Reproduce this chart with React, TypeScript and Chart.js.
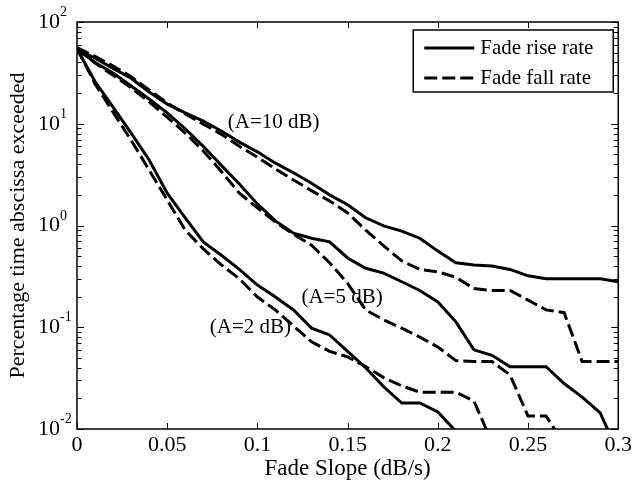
import React, { useEffect, useRef } from "react";
import { Chart, registerables } from "chart.js";

Chart.register(...registerables);

const FONT = "Liberation Serif";

// Fade slope (dB/s) sampling
const slopes = [
  0, 0.01, 0.02, 0.03, 0.04, 0.05, 0.06, 0.07, 0.08, 0.09, 0.1, 0.11, 0.12, 0.13, 0.14, 0.15,
  0.16, 0.17, 0.18, 0.19, 0.2, 0.21, 0.22, 0.23, 0.24, 0.25, 0.26, 0.27, 0.28, 0.29, 0.3,
];

// Percentage of time abscissa exceeded
const riseA10 = [54, 44, 35, 28, 20.5, 15.6, 12.8, 10.6, 8.5, 6.6, 5.3, 4.1, 3.3, 2.6, 2.0, 1.6, 1.19, 0.99, 0.88, 0.75, 0.56, 0.43, 0.41, 0.4, 0.37, 0.32, 0.3, 0.3, 0.3, 0.3, 0.28];
const fallA10 = [56, 46, 37, 29, 21.5, 16, 12.5, 9.9, 7.9, 6.0, 4.7, 3.6, 2.8, 2.2, 1.74, 1.33, 0.9, 0.63, 0.45, 0.37, 0.35, 0.31, 0.24, 0.23, 0.23, 0.185, 0.148, 0.139, 0.046, 0.046, 0.046];
const riseA5 = [54, 40, 31.5, 23.5, 17.5, 12.8, 8.9, 6.0, 3.9, 2.56, 1.63, 1.11, 0.84, 0.75, 0.69, 0.48, 0.38, 0.34, 0.28, 0.23, 0.177, 0.113, 0.06, 0.053, 0.041, 0.041, 0.041, 0.028, 0.0206, 0.0144, 0.0058];
const fallA5 = [56, 39.5, 30, 22.5, 16.4, 11.6, 8.1, 5.4, 3.4, 2.08, 1.49, 1.08, 0.82, 0.64, 0.43, 0.27, 0.148, 0.118, 0.098, 0.08, 0.064, 0.047, 0.046, 0.046, 0.034, 0.0134, 0.0134, 0.0071];
const riseA2 = [54, 26, 14.6, 8.1, 4.4, 2.08, 1.19, 0.69, 0.51, 0.37, 0.26, 0.198, 0.148, 0.098, 0.084, 0.058, 0.04, 0.026, 0.018, 0.018, 0.0147, 0.0095];
const fallA2 = [56, 24.6, 13, 6.9, 3.5, 1.78, 0.9, 0.59, 0.41, 0.3, 0.198, 0.148, 0.103, 0.072, 0.058, 0.051, 0.041, 0.032, 0.0265, 0.023, 0.023, 0.023, 0.0188, 0.0074];

const legendLabels = ["Fade rise rate", "Fade fall rate"];
const curveLabels = ["(A=10 dB)", "(A=5 dB)", "(A=2 dB)"];
const curveLabelX = [0.0836, 0.1244, 0.0736];
const curveLabelY = [10.4, 0.194, 0.0984];

const xTicks = [0, 0.05, 0.1, 0.15, 0.2, 0.25, 0.3];
const yExponents = [-2, -1, 0, 1, 2];

const DASH = [13, 5];

function series(values: number[]) {
  return values.map((v, i) => ({ x: slopes[i], y: v }));
}

const overlay = {
  id: "overlay",
  beforeDatasetsDraw(chart: any) {
    const { ctx, scales } = chart;
    ctx.save();
    ctx.fillStyle = "#000";
    ctx.font = `21px "${FONT}"`;
    ctx.textAlign = "left";
    ctx.textBaseline = "middle";
    curveLabels.forEach((t, i) => {
      ctx.fillText(t, scales.x.getPixelForValue(curveLabelX[i]), scales.y.getPixelForValue(curveLabelY[i]));
    });
    ctx.restore();
  },
  afterDatasetsDraw(chart: any) {
    const { ctx, chartArea, scales } = chart;
    const { left, right, top, bottom } = chartArea;
    ctx.save();
    ctx.strokeStyle = "#000";
    ctx.lineWidth = 1.5;
    ctx.setLineDash([]);
    // frame
    ctx.strokeRect(left, top, right - left, bottom - top);
    // x ticks (inside, mirrored)
    ctx.lineWidth = 1;
    ctx.beginPath();
    xTicks.forEach((v) => {
      const px = Math.round(scales.x.getPixelForValue(v)) + 0.5;
      ctx.moveTo(px, bottom);
      ctx.lineTo(px, bottom - 6);
      ctx.moveTo(px, top);
      ctx.lineTo(px, top + 6);
    });
    // y ticks (log, inside, mirrored)
    for (let d = -2; d <= 2; d++) {
      for (let m = 1; m <= 9; m++) {
        if (d === 2 && m > 1) break;
        const v = m * Math.pow(10, d);
        const py = Math.round(scales.y.getPixelForValue(v)) + 0.5;
        const len = m === 1 ? 7 : 4.5;
        ctx.moveTo(left, py);
        ctx.lineTo(left + len, py);
        ctx.moveTo(right, py);
        ctx.lineTo(right - len, py);
      }
    }
    ctx.stroke();

    // y tick labels 10^n
    ctx.fillStyle = "#000";
    yExponents.forEach((e) => {
      const py = scales.y.getPixelForValue(Math.pow(10, e));
      ctx.font = `22px "${FONT}"`;
      ctx.textAlign = "right";
      ctx.textBaseline = "middle";
      ctx.fillText("10", left - 17, py);
      ctx.font = `14px "${FONT}"`;
      ctx.textAlign = "left";
      ctx.textBaseline = "alphabetic";
      ctx.fillText(String(e).replace("-", "-"), left - 17, py - 6);
    });

    // legend
    const bx = right - 205;
    const by = top + 8;
    const bw = 200;
    const bh = 62;
    ctx.fillStyle = "#fff";
    ctx.fillRect(bx, by, bw, bh);
    ctx.lineWidth = 1.5;
    ctx.strokeStyle = "#000";
    ctx.strokeRect(bx, by, bw, bh);
    const rows = [by + 18, by + 48];
    ctx.lineWidth = 3;
    rows.forEach((ry, i) => {
      ctx.setLineDash(i === 0 ? [] : DASH);
      ctx.beginPath();
      ctx.moveTo(bx + 11, ry);
      ctx.lineTo(bx + 61, ry);
      ctx.stroke();
    });
    ctx.setLineDash([]);
    ctx.fillStyle = "#000";
    ctx.font = `21px "${FONT}"`;
    ctx.textAlign = "left";
    ctx.textBaseline = "middle";
    rows.forEach((ry, i) => ctx.fillText(legendLabels[i], bx + 67, ry));
    ctx.restore();
  },
};

export default function App() {
  const ref = useRef<HTMLCanvasElement | null>(null);

  useEffect(() => {
    if (!ref.current) return;
    Chart.defaults.font.family = FONT;
    const mk = (label: string, values: number[], dashed: boolean) => ({
      label,
      data: series(values),
      borderColor: "#000",
      backgroundColor: "#000",
      borderWidth: 3,
      borderDash: dashed ? DASH : [],
      pointRadius: 0,
      tension: 0,
      fill: false,
    });
    const chart = new Chart(ref.current, {
      type: "line",
      data: {
        datasets: [
          mk("Fade rise rate A=10", riseA10, false),
          mk("Fade fall rate A=10", fallA10, true),
          mk("Fade rise rate A=5", riseA5, false),
          mk("Fade fall rate A=5", fallA5, true),
          mk("Fade rise rate A=2", riseA2, false),
          mk("Fade fall rate A=2", fallA2, true),
        ],
      },
      options: {
        responsive: false,
        animation: false,
        devicePixelRatio: 1,
        layout: { padding: { top: 22, right: 16, left: 0, bottom: 0 } },
        plugins: { legend: { display: false }, tooltip: { enabled: false } },
        scales: {
          x: {
            type: "linear",
            min: 0,
            max: 0.3,
            grid: { display: false, drawTicks: false },
            border: { display: false },
            afterBuildTicks: (s: any) => {
              s.ticks = xTicks.map((v) => ({ value: v }));
            },
            ticks: {
              autoSkip: false,
              maxRotation: 0,
              padding: 3,
              color: "#000",
              font: { family: FONT, size: 22 },
              callback: (v: any) => String(Number(Number(v).toFixed(2))),
            },
            title: {
              display: true,
              text: "Fade Slope (dB/s)",
              color: "#000",
              font: { family: FONT, size: 23 },
              padding: { top: 0, bottom: 5 },
            },
            afterFit: (s: any) => {
              s.height = 59;
            },
          },
          y: {
            type: "logarithmic",
            min: 0.01,
            max: 100,
            grid: { display: false, drawTicks: false },
            border: { display: false },
            ticks: { display: false },
            title: {
              display: true,
              text: "Percentage time abscissa exceeded",
              color: "#000",
              font: { family: FONT, size: 22 },
              padding: { top: 5, bottom: 0 },
            },
            afterFit: (s: any) => {
              s.width = 77;
            },
          },
        },
      } as any,
      plugins: [overlay],
    });
    return () => chart.destroy();
  }, []);

  return (
    <div style={{ position: "fixed", left: 0, top: 0, width: 635, height: 488, background: "#fff" }}>
      <canvas ref={ref} width={635} height={488} style={{ display: "block" }} />
    </div>
  );
}
